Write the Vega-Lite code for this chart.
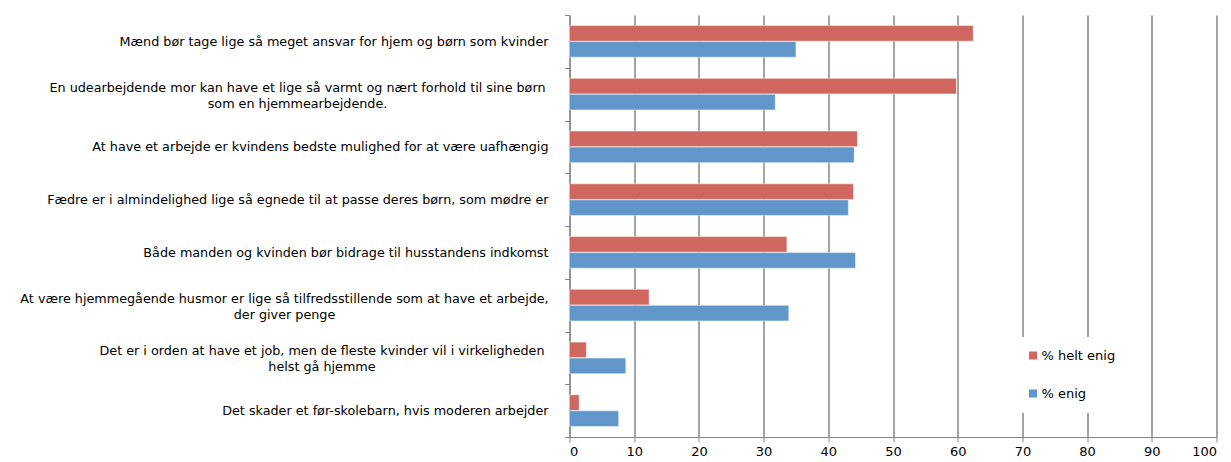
{
  "$schema": "https://vega.github.io/schema/vega-lite/v6.json",
  "width": 647,
  "height": 422,
  "autosize": {"type": "none"},
  "padding": {"left": 569.5, "top": 15, "right": 15, "bottom": 25},
  "background": "white",
  "data": {"values": [
    {"q": "Mænd bør tage lige så meget ansvar for hjem og børn som kvinder", "o": 1, "serie": "% helt enig", "v": 62.4},
    {"q": "Mænd bør tage lige så meget ansvar for hjem og børn som kvinder", "o": 1, "serie": "% enig", "v": 35.0},
    {"q": "En udearbejdende mor kan have et lige så varmt og nært forhold til sine børn|som en hjemmearbejdende.", "o": 2, "serie": "% helt enig", "v": 59.8},
    {"q": "En udearbejdende mor kan have et lige så varmt og nært forhold til sine børn|som en hjemmearbejdende.", "o": 2, "serie": "% enig", "v": 31.8},
    {"q": "At have et arbejde er kvindens bedste mulighed for at være uafhængig", "o": 3, "serie": "% helt enig", "v": 44.5},
    {"q": "At have et arbejde er kvindens bedste mulighed for at være uafhængig", "o": 3, "serie": "% enig", "v": 44.0},
    {"q": "Fædre er i almindelighed lige så egnede til at passe deres børn, som mødre er", "o": 4, "serie": "% helt enig", "v": 43.9},
    {"q": "Fædre er i almindelighed lige så egnede til at passe deres børn, som mødre er", "o": 4, "serie": "% enig", "v": 43.1},
    {"q": "Både manden og kvinden bør bidrage til husstandens indkomst", "o": 5, "serie": "% helt enig", "v": 33.6},
    {"q": "Både manden og kvinden bør bidrage til husstandens indkomst", "o": 5, "serie": "% enig", "v": 44.2},
    {"q": "At være hjemmegående husmor er lige så tilfredsstillende som at have et arbejde,|der giver penge", "o": 6, "serie": "% helt enig", "v": 12.3},
    {"q": "At være hjemmegående husmor er lige så tilfredsstillende som at have et arbejde,|der giver penge", "o": 6, "serie": "% enig", "v": 33.9},
    {"q": "Det er i orden at have et job, men de fleste kvinder vil i virkeligheden|helst gå hjemme", "o": 7, "serie": "% helt enig", "v": 2.6},
    {"q": "Det er i orden at have et job, men de fleste kvinder vil i virkeligheden|helst gå hjemme", "o": 7, "serie": "% enig", "v": 8.7},
    {"q": "Det skader et før-skolebarn, hvis moderen arbejder", "o": 8, "serie": "% helt enig", "v": 1.5},
    {"q": "Det skader et før-skolebarn, hvis moderen arbejder", "o": 8, "serie": "% enig", "v": 7.6}
  ]},
  "mark": {"type": "bar", "stroke": "white", "strokeOpacity": 0.6, "strokeWidth": 0.8},
  "encoding": {
    "y": {
      "field": "q", "type": "nominal", "sort": {"field": "o", "op": "min"},
      "scale": {"paddingInner": 0, "paddingOuter": 0},
      "axis": {
        "title": null,
        "labelExpr": "split(datum.label, '|')",
        "labelLimit": 0,
        "labelFont": "DejaVu Sans",
        "labelFontSize": 12.75,
        "labelColor": "#000000",
        "labelAlign": {"condition": {"test": "indexof(datum.label, '|') >= 0", "value": "center"}, "value": "right"},
        "labelPadding": {"condition": [
          {"test": "indexof(datum.label, 'En udearbejdende') >= 0", "value": 267.5},
          {"test": "indexof(datum.label, 'hjemmegående husmor') >= 0", "value": 280.5},
          {"test": "indexof(datum.label, 'Det er i orden') >= 0", "value": 243}
        ], "value": 16.5},
        "labelLineHeight": 16,
        "labelOffset": {"condition": {"test": "indexof(datum.label, '|') >= 0", "value": -7}, "value": 0},
        "tickBand": "extent",
        "tickSize": 5,
        "tickColor": "#868686",
        "domainColor": "#868686",
        "domainWidth": 1,
        "grid": false
      }
    },
    "yOffset": {"field": "serie", "type": "nominal", "sort": ["% helt enig", "% enig"], "scale": {"paddingInner": 0.03, "paddingOuter": 0.66}},
    "x": {
      "field": "v", "type": "quantitative",
      "scale": {"domain": [0, 100]},
      "axis": {
        "title": null,
        "values": [0,10,20,30,40,50,60,70,80,90,100],
        "labelOverlap": false,
        "labelFont": "DejaVu Sans",
        "labelFontSize": 13,
        "labelColor": "#000000",
        "labelPadding": 3,
        "tickSize": 5,
        "tickColor": "#868686",
        "domainColor": "#868686",
        "grid": true,
        "gridColor": "#868686",
        "gridWidth": 1.5
      }
    },
    "color": {
      "field": "serie", "type": "nominal",
      "sort": ["% helt enig", "% enig"],
      "scale": {"domain": ["% helt enig", "% enig"], "range": ["#CF665F", "#6096C9"]},
      "legend": {
        "title": null,
        "orient": "none",
        "legendX": 445,
        "legendY": 322,
        "fillColor": "white",
        "padding": 12,
        "rowPadding": 24,
        "symbolType": "square",
        "symbolSize": 64,
        "symbolStrokeWidth": 0,
        "labelFont": "DejaVu Sans",
        "labelFontSize": 13,
        "labelColor": "#000000",
        "labelOffset": 2
      }
    }
  },
  "config": {"view": {"stroke": null}}
}
